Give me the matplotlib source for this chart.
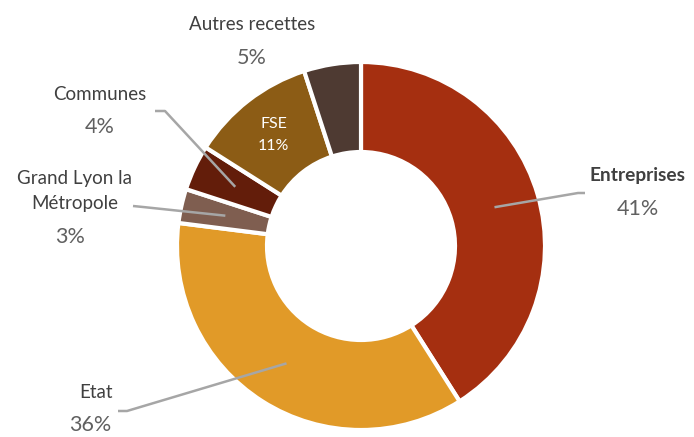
import numpy as np
import matplotlib
matplotlib.use("Agg")
import matplotlib.pyplot as plt

categories = ["Entreprises", "Etat", "Grand Lyon la\nMétropole", "Communes", "FSE", "Autres recettes"]
values = [41, 36, 3, 4, 11, 5]
colors = ["#A52F10", "#E19A28", "#7F5E50", "#631D0A", "#8C5C15", "#4E3A32"]

W, H = 694, 437
fig = plt.figure(figsize=(W / 100, H / 100), dpi=100)
ax = fig.add_axes([0, 0, 1, 1])
ax.set_xlim(0, W)
ax.set_ylim(0, H)
ax.set_aspect("equal")
ax.axis("off")

cx, cy = 361, H - 246
R, r_in = 184, 94
wedges, _ = ax.pie(values, colors=colors, startangle=90, counterclock=False,
                   center=(cx, cy), radius=R,
                   wedgeprops=dict(width=R - r_in, edgecolor="white", linewidth=3))
ax.set_xlim(0, W)
ax.set_ylim(0, H)

fam = ["Lato", "DejaVu Sans"]
name_col = "#404040"
pct_col = "#606060"
line_col = "#A6A6A6"

total = sum(values)
mid_r = (R + r_in) / 2
cum = 0
angles = []
for v in values:
    a = 90 - (cum + v / 2) / total * 360
    angles.append(np.deg2rad(a))
    cum += v

def anchor(i):
    return cx + mid_r * np.cos(angles[i]), cy + mid_r * np.sin(angles[i])

layout = {
    0: dict(name=(638, 176), pct=(638, 209), elbow=[(585, 193), (578, 193)], bold=True),
    1: dict(name=(96, 393), pct=(90, 425), elbow=[(118, 411), (127, 411)], bold=False),
    2: dict(name=(75, 191), pct=(70, 237), elbow=[(133, 206), (143, 207)], bold=False),
    3: dict(name=(100, 95), pct=(100, 127), elbow=[(155, 111), (165, 111)], bold=False),
    5: dict(name=(252, 25), pct=(252, 58), elbow=None, bold=False),
}

for i, lay in layout.items():
    nx, ny = lay["name"]
    px, py = lay["pct"]
    ax.text(nx, H - ny, categories[i], ha="center", va="center",
            fontsize=13.8 if lay["bold"] else 13.5,
            color=name_col, family=fam, fontweight="bold" if lay["bold"] else "normal",
            linespacing=1.6)
    ax.text(px, H - py, f"{values[i]}%", ha="center", va="center", fontsize=15.5,
            color=pct_col, family=fam, fontweight="normal")
    if lay["elbow"]:
        ax_, ay_ = anchor(i)
        xs = [p[0] for p in lay["elbow"]] + [ax_]
        ys = [H - p[1] for p in lay["elbow"]] + [ay_]
        ax.plot(xs, ys, color=line_col, linewidth=1.8, solid_capstyle="butt", zorder=5)

fx, fy = anchor(4)
ax.text(fx - 2, fy + 12, categories[4], ha="center", va="center", fontsize=11.5,
        color="white", family=fam)
ax.text(fx - 2, fy - 10, f"{values[4]}%", ha="center", va="center", fontsize=11.5,
        color="white", family=fam)

fig.savefig("out.png", dpi=100)
